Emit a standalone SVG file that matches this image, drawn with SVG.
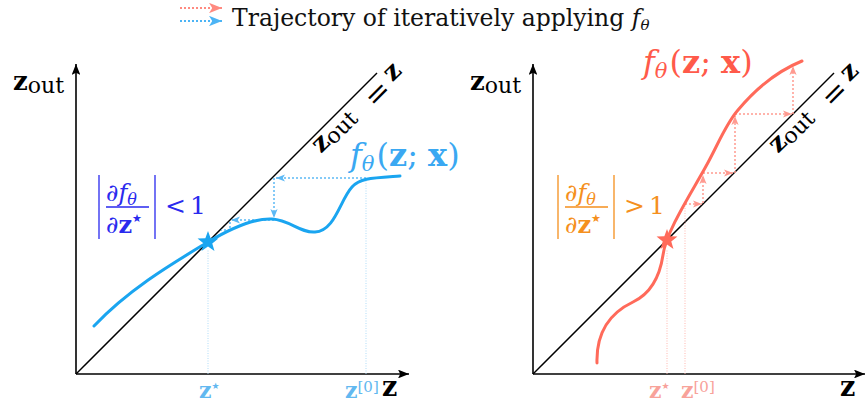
<svg xmlns="http://www.w3.org/2000/svg" width="865" height="407" viewBox="0 0 865 407">
<style>
text{font-family:"DejaVu Serif","Liberation Serif",serif;}
.b{font-weight:bold;}
.i{font-style:italic;}
.st{font-family:"DejaVu Sans",sans-serif;font-weight:normal;}
.ax{fill:none;stroke:#000;stroke-width:1.6;}
.dg{fill:none;stroke:#000;stroke-width:1.5;}
.trb{fill:none;stroke:#5cb9f5;stroke-width:1.5;stroke-dasharray:2 2;}
.trr{fill:none;stroke:#ff9a90;stroke-width:1.5;stroke-dasharray:2 2;}
.gb{fill:none;stroke:#a6d8f8;stroke-width:0.9;stroke-dasharray:1 1.5;}
.gr{fill:none;stroke:#ffb0a8;stroke-width:0.9;stroke-dasharray:1 1.5;}
.cb{fill:none;stroke:#1aa5f0;stroke-width:3;stroke-linecap:round;}
.cr{fill:none;stroke:#ff6a5a;stroke-width:3;stroke-linecap:round;}
</style>
<defs>
<marker id="ak" viewBox="0 0 10 8" refX="10" refY="4" markerWidth="11" markerHeight="8.8" orient="auto" markerUnits="userSpaceOnUse"><path d="M0,0 L10,4 L0,8 L2,4 z" fill="#000"/></marker>
<marker id="ab" viewBox="0 0 10 8" refX="10" refY="4" markerWidth="9" markerHeight="7.2" orient="auto" markerUnits="userSpaceOnUse"><path d="M0,0 L10,4 L0,8 L2.5,4 z" fill="#5cb9f5"/></marker>
<marker id="ar" viewBox="0 0 10 8" refX="10" refY="4" markerWidth="9" markerHeight="7.2" orient="auto" markerUnits="userSpaceOnUse"><path d="M0,0 L10,4 L0,8 L2.5,4 z" fill="#ff9a90"/></marker>
<marker id="alr" viewBox="0 0 10 8" refX="10" refY="4" markerWidth="13" markerHeight="10.4" orient="auto" markerUnits="userSpaceOnUse"><path d="M0,0 L10,4 L0,8 L2.5,4 z" fill="#ff8a80"/></marker>
<marker id="alb" viewBox="0 0 10 8" refX="10" refY="4" markerWidth="13" markerHeight="10.4" orient="auto" markerUnits="userSpaceOnUse"><path d="M0,0 L10,4 L0,8 L2.5,4 z" fill="#4cb4f5"/></marker>
<polygon id="star" points="0,-11 2.65,-3.64 10.46,-3.4 4.28,1.39 6.47,8.9 0,4.5 -6.47,8.9 -4.28,1.39 -10.46,-3.4 -2.65,-3.64"/>
</defs>

<g id="legend">
<path d="M180,8 H222" fill="none" stroke="#ff8a80" stroke-width="2.2" stroke-dasharray="2 2" marker-end="url(#alr)"/>
<path d="M180,21 H222" fill="none" stroke="#4cb4f5" stroke-width="2.2" stroke-dasharray="2 2" marker-end="url(#alb)"/>
<text x="232" y="26" font-size="23.5" fill="#111">Trajectory of iteratively applying <tspan class="i">f</tspan><tspan class="i" font-size="15" dy="4">θ</tspan></text>
</g>

<g id="connectors">
<path class="ax" d="M76,374 V64" marker-end="url(#ak)"/>
<path class="ax" d="M76,374 H409" marker-end="url(#ak)"/>
<path class="dg" d="M76,374 L377,73"/>
<path class="ax" d="M533,374 V64" marker-end="url(#ak)"/>
<path class="ax" d="M533,374 H865" marker-end="url(#ak)"/>
<path class="dg" d="M533,374 L834,73"/>
<path class="gb" d="M208,374 V250 M366,374 V180"/>
<path class="gr" d="M667,374 V250 M685,374 V206"/>
<path class="trb" d="M366,178 H276" marker-end="url(#ab)"/>
<path class="trb" d="M274,178 V218" marker-end="url(#ab)"/>
<path class="trb" d="M274,220 H231" marker-end="url(#ab)"/>
<path class="trb" d="M230,222 V230 H221"/>
<path class="trr" d="M685,204 H702" marker-end="url(#ar)"/>
<path class="trr" d="M703,203 V175" marker-end="url(#ar)"/>
<path class="trr" d="M703,173 H733" marker-end="url(#ar)"/>
<path class="trr" d="M735,173 V116" marker-end="url(#ar)"/>
<path class="trr" d="M735,114 H792" marker-end="url(#ar)"/>
<path class="trr" d="M793,114 V66" marker-end="url(#ar)"/>
</g>

<g id="curve-left">
<path class="cb" d="M94,326 C130,288 175,262 208,242 C235,226 255,218 272,219 C290,220 300,233 315,232 C335,231 340,200 352,187 C360,178 372,178 400,176"/>
<use href="#star" transform="translate(208,242)" fill="#1aa5f0"/>
</g>

<g id="curve-right">
<path class="cr" d="M597,363 C596,330 612,312 633,302 C652,293 660,275 663,255 C666,232 690,195 705,168 C718,145 725,125 738,110 C758,86 780,70 802,61"/>
<use href="#star" transform="translate(667,240)" fill="#ff6a5a"/>
</g>

<g id="labels-left">
<text x="13" y="90" font-size="26" class="b">z<tspan font-size="22" font-weight="normal" dy="3">out</tspan></text>
<g transform="translate(321,154) rotate(-45)">
<text x="0" y="0" font-size="26" class="b">z<tspan font-size="22" font-weight="normal" dy="3">out</tspan></text>
<text x="70" y="7" font-size="30">=</text>
<text x="101" y="0" font-size="26" class="b">z</text>
</g>
<text x="350" y="166" font-size="32" fill="#3aa8f2"><tspan class="i">f</tspan><tspan font-size="21" class="i" dy="5">θ</tspan><tspan dy="-5" dx="2">(</tspan><tspan class="b">z</tspan>; <tspan class="b">x</tspan>)</text>
<g fill="#2a2aee" stroke="none">
<path d="M99,175 V239 M155,175 V239 M106,207 H149" stroke="#2a2aee" stroke-width="1.3"/>
<text x="106" y="201" font-size="24">∂<tspan class="i">f</tspan><tspan font-size="16" class="i" dy="4">θ</tspan></text>
<text x="106" y="233" font-size="24">∂<tspan class="b">z</tspan><tspan class="st" font-size="11" dy="-11">★</tspan></text>
<text y="214" font-size="25"><tspan x="165">&lt;</tspan><tspan x="190">1</tspan></text>
</g>
<text x="199" y="398" font-size="22" fill="#62b8f0" class="b">z<tspan class="st" font-size="9" dy="-9">★</tspan></text>
<text x="345" y="398" font-size="22" fill="#62b8f0" class="b">z<tspan font-size="15" font-weight="normal" dy="-6">[0]</tspan></text>
<text x="382" y="396" font-size="27" class="b">z</text>
</g>

<g id="labels-right">
<text x="470" y="90" font-size="26" class="b">z<tspan font-size="22" font-weight="normal" dy="3">out</tspan></text>
<g transform="translate(778,154) rotate(-45)">
<text x="0" y="0" font-size="26" class="b">z<tspan font-size="22" font-weight="normal" dy="3">out</tspan></text>
<text x="70" y="7" font-size="30">=</text>
<text x="101" y="0" font-size="26" class="b">z</text>
</g>
<text x="643" y="73" font-size="32" fill="#ff5a4a"><tspan class="i">f</tspan><tspan font-size="21" class="i" dy="5">θ</tspan><tspan dy="-5" dx="2">(</tspan><tspan class="b">z</tspan>; <tspan class="b">x</tspan>)</text>
<g fill="#f5901e" stroke="none">
<path d="M558,175 V239 M614,175 V239 M565,207 H608" stroke="#f5901e" stroke-width="1.3"/>
<text x="565" y="201" font-size="24">∂<tspan class="i">f</tspan><tspan font-size="16" class="i" dy="4">θ</tspan></text>
<text x="565" y="233" font-size="24">∂<tspan class="b">z</tspan><tspan class="st" font-size="11" dy="-11">★</tspan></text>
<text y="214" font-size="25"><tspan x="624">&gt;</tspan><tspan x="649">1</tspan></text>
</g>
<text x="649" y="398" font-size="22" fill="#f8a29a" class="b">z<tspan class="st" font-size="9" dy="-9">★</tspan></text>
<text x="681" y="398" font-size="22" fill="#f8a29a" class="b">z<tspan font-size="15" font-weight="normal" dy="-6">[0]</tspan></text>
<text x="840" y="396" font-size="27" class="b">z</text>
</g>
</svg>
